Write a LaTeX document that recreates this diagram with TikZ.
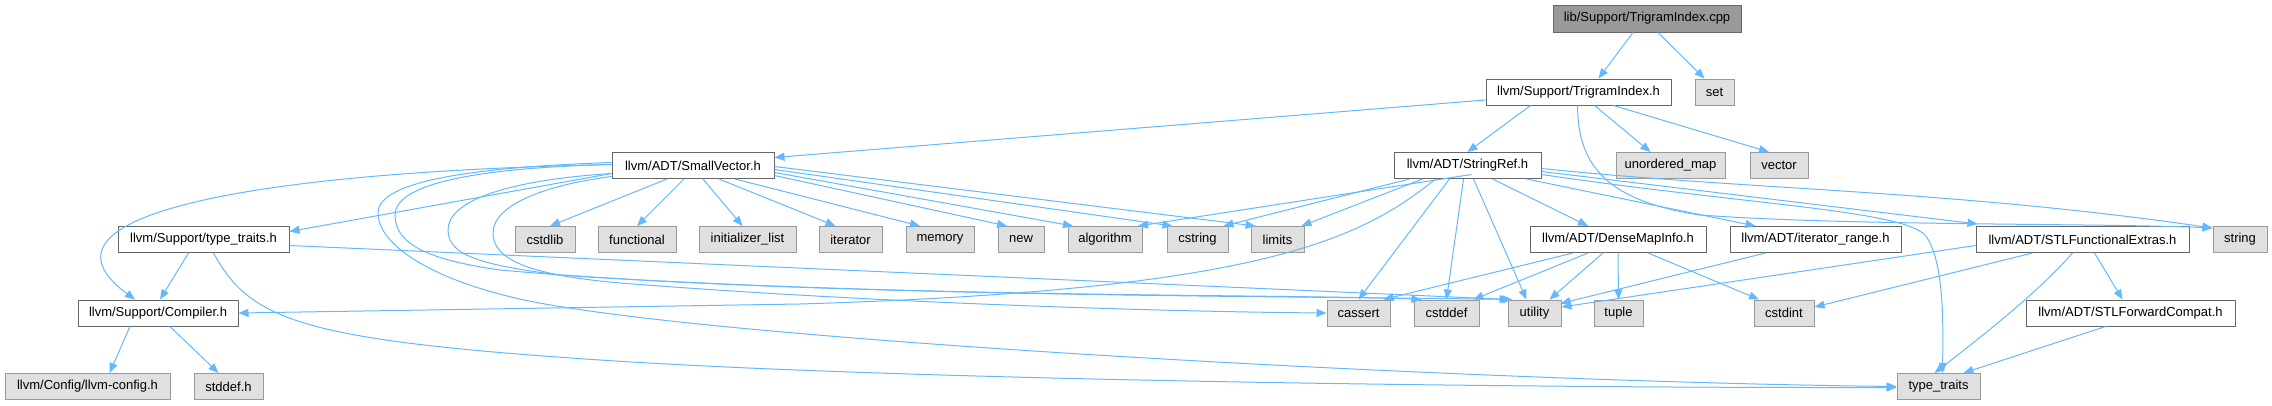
\documentclass[tikz,border=0pt]{standalone}
\usepackage{fontspec}
\setmainfont{Liberation Sans}
\usetikzlibrary{arrows.meta}
\definecolor{edgeblue}{HTML}{63B8FF}
\definecolor{gfill}{HTML}{E0E0E0}
\definecolor{gline}{HTML}{999999}
\definecolor{wline}{HTML}{666666}
\definecolor{rootfill}{HTML}{999999}
\tikzset{
  base/.style={minimum height=26pt, inner sep=0pt, line width=1pt, font=\fontsize{13}{15}\selectfont},
  wbox/.style={base, draw=wline, fill=white},
  gbox/.style={base, draw=gline, fill=gfill},
  rbox/.style={base, draw=wline, fill=rootfill},
  e/.style={draw=edgeblue, line width=1pt, -{Triangle[length=10pt,width=8pt]}},
}
\begin{document}
\begin{tikzpicture}[x=1pt,y=1pt]
\useasboundingbox (0,0) rectangle (2272,-405);
% row 0
\node[rbox, minimum width=188pt, minimum height=27pt] (cpp) at (1647,-18.5) {lib/Support/TrigramIndex.cpp};
% row 1
\node[wbox, minimum width=185pt] (tih) at (1578.5,-92) {llvm/Support/TrigramIndex.h};
\node[gbox, minimum width=39pt] (set) at (1714.5,-92) {set};
% row 2
\node[wbox, minimum width=162pt] (sv) at (693,-165.5) {llvm/ADT/SmallVector.h};
\node[wbox, minimum width=147pt] (sr) at (1467.5,-165.5) {llvm/ADT/StringRef.h};
\node[gbox, minimum width=109pt] (umap) at (1670.5,-165.5) {unordered\_map};
\node[gbox, minimum width=58pt] (vec) at (1779,-165.5) {vector};
% row 3
\node[wbox, minimum width=171pt] (stt) at (203.5,-239.5) {llvm/Support/type\_traits.h};
\node[gbox, minimum width=60pt] (cstdlib) at (545,-239.5) {cstdlib};
\node[gbox, minimum width=78pt] (functional) at (637,-239.5) {functional};
\node[gbox, minimum width=97pt] (initlist) at (747.5,-239.5) {initializer\_list};
\node[gbox, minimum width=63pt] (iterator) at (850.5,-239.5) {iterator};
\node[gbox, minimum width=68pt] (memory) at (940,-239.5) {memory};
\node[gbox, minimum width=46pt] (new) at (1021,-239.5) {new};
\node[gbox, minimum width=74pt] (algorithm) at (1105,-239.5) {algorithm};
\node[gbox, minimum width=61pt] (cstring) at (1197.5,-239.5) {cstring};
\node[gbox, minimum width=53pt] (limits) at (1277.5,-239.5) {limits};
\node[wbox, minimum width=176pt] (dmi) at (1618,-239.5) {llvm/ADT/DenseMapInfo.h};
\node[wbox, minimum width=171pt] (itr) at (1815.5,-239.5) {llvm/ADT/iterator\_range.h};
\node[wbox, minimum width=213pt] (sfe) at (2082.5,-239.5) {llvm/ADT/STLFunctionalExtras.h};
\node[gbox, minimum width=54pt] (string) at (2240,-239.5) {string};
% row 4
\node[wbox, minimum width=160pt] (comp) at (158,-313) {llvm/Support/Compiler.h};
\node[gbox, minimum width=63pt] (cassert) at (1358.5,-313) {cassert};
\node[gbox, minimum width=65pt] (cstddef) at (1446.5,-313) {cstddef};
\node[gbox, minimum width=53pt] (utility) at (1534.5,-313) {utility};
\node[gbox, minimum width=49pt] (tuple) at (1618.5,-313) {tuple};
\node[gbox, minimum width=60pt] (cstdint) at (1784,-313) {cstdint};
\node[wbox, minimum width=209pt] (sfc) at (2130.5,-313) {llvm/ADT/STLForwardCompat.h};
% row 5
\node[gbox, minimum width=165pt] (cfg) at (87.5,-386.5) {llvm/Config/llvm-config.h};
\node[gbox, minimum width=69pt] (stddef) at (228.5,-386.5) {stddef.h};
\node[gbox, minimum width=83pt] (tt) at (1938.5,-386.5) {type\_traits};

% edges from cpp
\draw[e] ([xshift=-14pt]cpp.south) -- ([xshift=20pt]tih.north);
\draw[e] ([xshift=11pt]cpp.south) -- ([xshift=-10pt]set.north);
% edges from tih
\draw[e] ([yshift=-8pt]tih.west) -- ([yshift=8pt]sv.east);
\draw[e] ([xshift=-48pt]tih.south) -- ([xshift=0pt]sr.north);
\draw[e] ([xshift=16pt]tih.south) -- ([xshift=-20pt]umap.north);
\draw[e] ([xshift=35pt]tih.south) -- ([xshift=-10pt]vec.north);
\draw[e] ([xshift=-1pt]tih.south) .. controls (1578,-160) and (1600,-200) .. (1700,-215) .. controls (1850,-226) and (2100,-223) .. ([yshift=-2pt]string.north west);
% edges from sv
\draw[e] ([yshift=-8pt]sv.west) -- ([yshift=8pt]stt.east);
\draw[e] ([yshift=1pt]sv.west) .. controls (250,-172) and (20,-215) .. ([xshift=-23pt]comp.north);
\draw[e] ([xshift=-26pt]sv.south) -- ([xshift=5pt]cstdlib.north);
\draw[e] ([xshift=-9pt]sv.south) -- (functional.north);
\draw[e] ([xshift=10pt]sv.south) -- ([xshift=-5pt]initlist.north);
\draw[e] ([xshift=26pt]sv.south) -- ([xshift=-15pt]iterator.north);
\draw[e] ([xshift=42pt]sv.south) -- ([xshift=-20pt]memory.north);
\draw[e] ([yshift=-10pt]sv.east) -- ([xshift=-14pt]new.north);
\draw[e] ([yshift=-7pt]sv.east) -- ([xshift=-32pt]algorithm.north);
\draw[e] ([yshift=-4pt]sv.east) -- ([xshift=-25pt]cstring.north);
\draw[e] ([yshift=-1pt]sv.east) -- ([xshift=-22pt]limits.north);
% loops
\draw[e] ([yshift=3pt]sv.west) .. controls (450,-168) and (378,-185) .. (378,-213) .. controls (378,-250) and (450,-290) .. (563,-307) .. controls (800,-345) and (1500,-382) .. (tt.west);
\draw[e] ([yshift=1pt]sv.west) .. controls (470,-168) and (395,-185) .. (395,-215) .. controls (395,-245) and (430,-260) .. (500,-270) .. controls (800,-297) and (1300,-296) .. ([xshift=-22pt]utility.north);
\draw[e] ([yshift=-8pt]sv.west) .. controls (510,-180) and (448,-200) .. (448,-230) .. controls (448,-255) and (480,-265) .. (560,-275) .. controls (900,-298) and (1300,-294) .. ([xshift=-25pt]cstddef.north);
\draw[e] ([yshift=-11pt]sv.west) .. controls (545,-185) and (493,-205) .. (493,-233) .. controls (493,-260) and (530,-275) .. (620,-283) .. controls (900,-305) and (1200,-312) .. (cassert.west);
% edges from sr
\draw[e] ([xshift=-70pt,yshift=-9pt]sr.east) -- ([xshift=33pt]algorithm.north);
\draw[e] ([xshift=-58pt]sr.south) -- ([xshift=26pt]cstring.north);
\draw[e] ([xshift=-45pt]sr.south) -- ([xshift=24pt]limits.north);
\draw[e] ([xshift=-32pt]sr.south) .. controls (1360,-240) and (1260,-290) .. (800,-304) -- (comp.east);
\draw[e] ([xshift=-18pt]sr.south) -- (cassert.north);
\draw[e] ([xshift=-4pt]sr.south) -- ([xshift=0pt]cstddef.north);
\draw[e] ([xshift=6pt]sr.south) -- ([xshift=-8pt]utility.north);
\draw[e] ([xshift=25pt]sr.south) -- ([xshift=-30pt]dmi.north);
\draw[e] ([xshift=-15pt]sr.south east) -- ([xshift=-60pt]itr.north);
\draw[e] ([yshift=-6pt]sr.east) -- ([xshift=-105pt,yshift=2pt]sfe.north);
\draw[e] ([yshift=-3pt]sr.east) .. controls (1750,-190) and (1950,-190) .. ([yshift=-2pt]string.north west);
\draw[e] ([yshift=-9pt]sr.east) .. controls (1750,-205) and (1900,-210) .. (1925,-235) .. controls (1945,-260) and (1943,-330) .. ([xshift=4pt]tt.north);
% edges from stt
\draw[e] ([xshift=-15pt]stt.south) -- ([xshift=2pt]comp.north);
\draw[e] ([yshift=-6pt]stt.east) -- ([xshift=-25pt]utility.north);
\draw[e] ([xshift=10pt]stt.south) .. controls (250,-320) and (300,-340) .. (600,-360) .. controls (900,-380) and (1500,-388) .. ([yshift=-1pt]tt.west);
% edges from comp
\draw[e] ([xshift=-28pt]comp.south) -- ([xshift=22pt]cfg.north);
\draw[e] ([xshift=12pt]comp.south) -- ([xshift=-10pt]stddef.north);
% edges from dmi
\draw[e] ([xshift=-45pt]dmi.south) -- ([xshift=25pt]cassert.north);
\draw[e] ([xshift=-30pt]dmi.south) -- ([xshift=27pt]cstddef.north);
\draw[e] ([xshift=-15pt]dmi.south) -- ([xshift=15pt]utility.north);
\draw[e] ([xshift=0pt]dmi.south) -- (tuple.north);
\draw[e] ([xshift=30pt]dmi.south) -- ([xshift=-25pt]cstdint.north);
% others
\draw[e] ([xshift=-50pt]itr.south) -- ([xshift=26pt,yshift=-4pt]utility.north);
\draw[e] ([yshift=-6pt]sfe.west) -- ([yshift=6pt]utility.east);
\draw[e] ([xshift=-50pt]sfe.south) -- ([yshift=6pt]cstdint.east);
\draw[e] ([xshift=-10pt]sfe.south) .. controls (2040,-290) and (1990,-330) .. ([xshift=-4pt]tt.north);
\draw[e] ([xshift=12pt]sfe.south) -- ([xshift=-8pt]sfc.north);
\draw[e] ([xshift=-25pt]sfc.south) -- ([xshift=25pt]tt.north);
\end{tikzpicture}
\end{document}
